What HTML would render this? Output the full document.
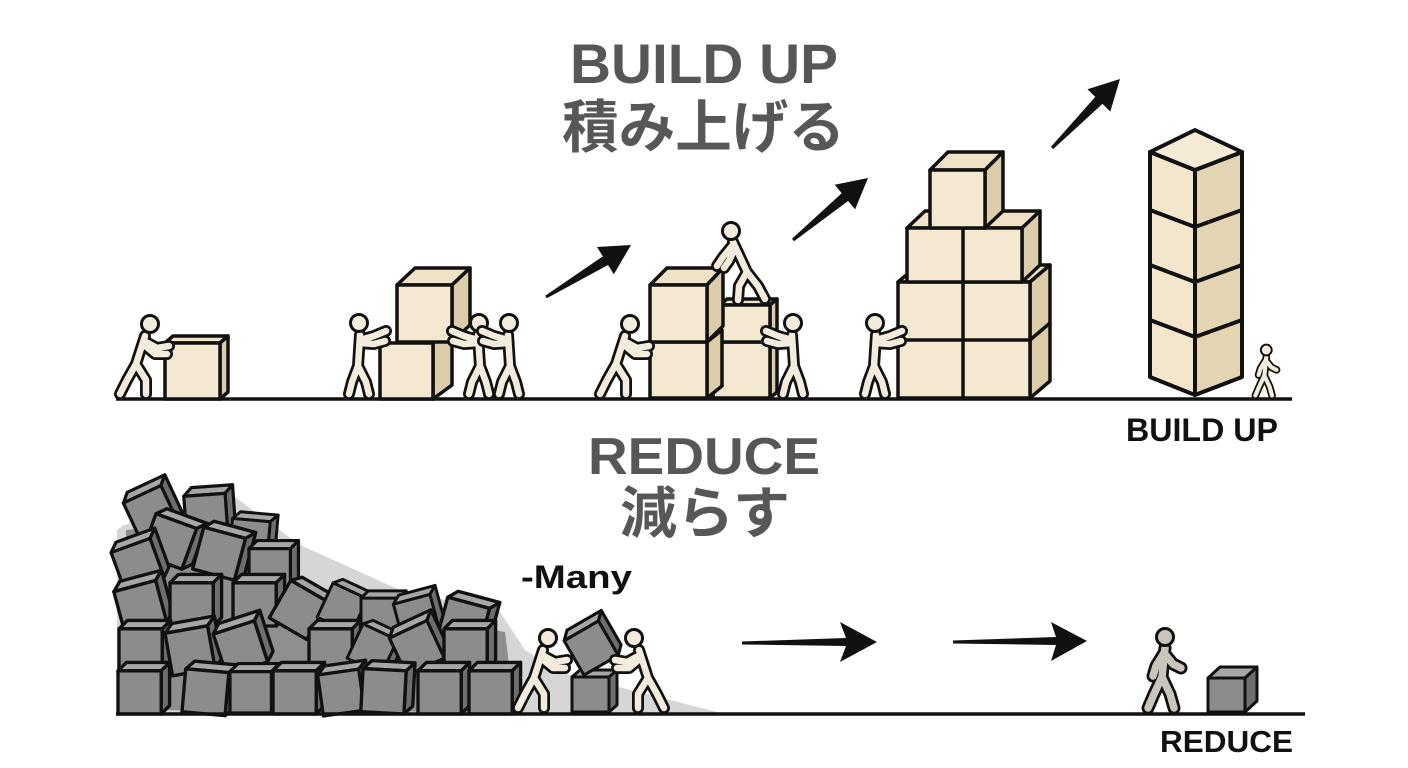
<!DOCTYPE html>
<html><head><meta charset="utf-8"><style>
html,body{margin:0;padding:0;background:#fff;}
svg{display:block;}
</style></head><body>
<svg width="1408" height="768" viewBox="0 0 1408 768" xmlns="http://www.w3.org/2000/svg">
<defs>
  <g id="cg" stroke="#111" stroke-width="2.8" stroke-linejoin="round">
    <path d="M-20,-16 L-13,-23 L23,-23 L16,-16 Z" fill="#a7a7a7"/>
    <path d="M16,-16 L23,-23 L23,13 L16,20 Z" fill="#6e6e6e"/>
    <rect x="-20" y="-16" width="36" height="36" fill="#8c8c8c"/>
  </g>
  <path id="pushL" fill="none" d="M3,-62 L-6,-34 M2,-57 L15,-50 L27,-52 M1,-54 L13,-44 L25,-44 M-6,-34 L-15,-18 L-22,-4 M-6,-34 L4,-18 L4,-4"/>
  <path id="reachL" fill="none" d="M0,-63 L-2,-32 M0,-58 L14,-62 L26,-67 M0,-55 L14,-54 L25,-57 M-2,-32 L-8,-16 L-11,-4 M-2,-32 L6,-16 L9,-4"/>
  <path id="walkL" fill="none" d="M2,-64 L-1,-35 M1,-59 L-7,-46 L-10,-36 M1,-59 L10,-48 L18,-44 M-1,-35 L-9,-18 L-15,-4 M-1,-35 L7,-18 L11,-4"/>
  <g id="push" stroke-linecap="round" stroke-linejoin="round">
    <use href="#pushL" stroke="#111" stroke-width="12"/>
    <use href="#pushL" stroke="#f3ecdc" stroke-width="6.5"/>
    <circle cx="8" cy="-74" r="8.5" fill="#f3ecdc" stroke="#111" stroke-width="3"/>
  </g>
  <g id="reach" stroke-linecap="round" stroke-linejoin="round">
    <use href="#reachL" stroke="#111" stroke-width="12"/>
    <use href="#reachL" stroke="#f3ecdc" stroke-width="6.5"/>
    <circle cx="-1" cy="-75" r="8.5" fill="#f3ecdc" stroke="#111" stroke-width="3"/>
  </g>
  <g id="walk" stroke-linecap="round" stroke-linejoin="round">
    <use href="#walkL" stroke="#111" stroke-width="12"/>
    <use href="#walkL" stroke="#f3ecdc" stroke-width="6.5"/>
    <circle cx="2" cy="-75" r="8.5" fill="#f3ecdc" stroke="#111" stroke-width="3"/>
  </g>
  <g id="walkG" stroke-linecap="round" stroke-linejoin="round">
    <use href="#walkL" stroke="#111" stroke-width="13"/>
    <use href="#walkL" stroke="#c9c5bd" stroke-width="7.5"/>
    <circle cx="2" cy="-75" r="8.5" fill="#c9c5bd" stroke="#111" stroke-width="3"/>
  </g>
</defs>

<rect width="1408" height="768" fill="#fff"/>

<!-- Titles -->
<g font-family="'Liberation Sans', 'Noto Sans CJK JP', sans-serif" font-weight="bold" fill="#575757">
  <text x="570" y="83" font-size="56" textLength="268" lengthAdjust="spacingAndGlyphs">BUILD UP</text>
  <text x="562" y="147" font-size="57" textLength="283" lengthAdjust="spacingAndGlyphs">積み上げる</text>
  <text x="588" y="474" font-size="52" textLength="232" lengthAdjust="spacingAndGlyphs">REDUCE</text>
  <text x="620" y="533" font-size="56" textLength="170" lengthAdjust="spacingAndGlyphs">減らす</text>
</g>
<g font-family="'Liberation Sans', sans-serif" font-weight="bold" fill="#111">
  <text x="521" y="588" font-size="32" textLength="111" lengthAdjust="spacingAndGlyphs">-Many</text>
  <text x="1126" y="441" font-size="32" textLength="152" lengthAdjust="spacingAndGlyphs">BUILD UP</text>
  <text x="1160" y="752" font-size="31" textLength="133" lengthAdjust="spacingAndGlyphs">REDUCE</text>
</g>

<!-- Ground lines -->
<line x1="116" y1="399" x2="1292" y2="399" stroke="#111" stroke-width="3.5"/>

<!-- Top boxes -->
<g stroke="#111" stroke-width="3.5" stroke-linejoin="round">
  <polygon points="165,343 173,336 228,336 220,343" fill="#efe2c6"/>
  <polygon points="220,343 228,336 228,392 220,399" fill="#dccdaa"/>
  <rect x="165" y="343" width="55" height="56" fill="#f4e8d0"/>
  <polygon points="433,343 452,330 452,385 433,399" fill="#dccdaa"/>
  <rect x="380" y="343" width="53" height="56" fill="#f4e8d0"/>
  <polygon points="397,285 415,268 470,268 452,285" fill="#efe2c6"/>
  <polygon points="452,285 470,268 470,325 452,342" fill="#dccdaa"/>
  <rect x="397" y="285" width="55" height="57" fill="#f4e8d0"/>
  <polygon points="770,342 777,336 777,392 770,398" fill="#dccdaa"/>
  <rect x="713" y="342" width="57" height="56" fill="#f4e8d0"/>
  <polygon points="720,305 727,299 777,299 770,305" fill="#efe2c6"/>
  <polygon points="770,305 777,299 777,336 770,342" fill="#dccdaa"/>
  <rect x="720" y="305" width="50" height="37" fill="#f4e8d0"/>
  <polygon points="707,342 722,330 722,386 707,398" fill="#dccdaa"/>
  <rect x="650" y="342" width="57" height="56" fill="#f4e8d0"/>
  <polygon points="650,285 667,268 723,268 707,285" fill="#efe2c6"/>
  <polygon points="707,285 723,268 723,326 707,342" fill="#dccdaa"/>
  <rect x="650" y="285" width="57" height="57" fill="#f4e8d0"/>
  <polygon points="898,282 918,265 1050,265 1030,282" fill="#efe2c6"/>
  <polygon points="1030,282 1050,265 1050,381 1030,398" fill="#dccdaa"/>
  <line x1="1030" y1="340" x2="1050" y2="323"/>
  <rect x="898" y="282" width="132" height="116" fill="#f4e8d0"/>
  <line x1="963" y1="282" x2="963" y2="398"/>
  <line x1="898" y1="340" x2="1030" y2="340"/>
  <polygon points="907,228 925,211 1040,211 1022,228" fill="#efe2c6"/>
  <polygon points="1022,228 1040,211 1040,265 1022,282" fill="#dccdaa"/>
  <rect x="907" y="228" width="115" height="54" fill="#f4e8d0"/>
  <line x1="963" y1="228" x2="963" y2="282"/>
  <polygon points="930,170 948,152 1003,152 985,170" fill="#efe2c6"/>
  <polygon points="985,170 1003,152 1003,211 985,228" fill="#dccdaa"/>
  <rect x="930" y="170" width="55" height="58" fill="#f4e8d0"/>
</g>

<!-- Tower -->
<g stroke="#111" stroke-width="4" stroke-linejoin="round">
  <polygon points="1150,152 1195,170 1195,395 1150,377" fill="#f3e6cc"/>
  <polygon points="1195,170 1242,152 1242,377 1195,395" fill="#e3d4b4"/>
  <polygon points="1150,152 1195,130 1242,152 1195,170" fill="#f5ead4"/>
  <polyline points="1150,210 1195,227 1242,210" fill="none"/>
  <polyline points="1150,265 1195,282 1242,265" fill="none"/>
  <polyline points="1150,320 1195,337 1242,320" fill="none"/>
</g>

<!-- Top people -->
<use href="#push" transform="translate(142,398)"/>
<use href="#reach" transform="translate(360,398)"/>
<use href="#reach" transform="translate(478,398) scale(-1,1)"/>
<use href="#reach" transform="translate(508,398) scale(-1,1)"/>
<use href="#push" transform="translate(622,398)"/>
<use href="#reach" transform="translate(792,398) scale(-1,1)"/>
<use href="#reach" transform="translate(876,398)"/>
<use href="#walk" transform="translate(1265,398) scale(0.64)"/>
<g stroke-linecap="round" stroke-linejoin="round" fill="none">
  <path d="M733,242 L747,272 M732,246 L723,257 L717,266 M735,248 L729,261 L724,268 M747,272 L739,286 L738,300 M747,272 L758,286 L765,299" stroke="#111" stroke-width="12"/>
  <path d="M733,242 L747,272 M732,246 L723,257 L717,266 M735,248 L729,261 L724,268 M747,272 L739,286 L738,300 M747,272 L758,286 L765,299" stroke="#f3ecdc" stroke-width="6.5"/>
  <circle cx="731" cy="231" r="8.5" fill="#f3ecdc" stroke="#111" stroke-width="3"/>
</g>

<!-- Up arrows -->
<g fill="#111">
  <polygon points="545.2,295.7 602.8,256.4 597,247 631,245 613.8,274.3 608,265 546.8,298.3"/>
  <polygon points="792,238.8 841.7,193.2 834.7,184.8 868,178 855.1,209.4 848.1,201 794,241.2"/>
  <polygon points="1050.9,146.9 1095.3,96.9 1087.5,89.2 1120,79 1110.3,111.6 1102.5,103.9 1053.1,149.1"/>
</g>

<!-- Bottom section -->
<polygon points="117,714 117,530 124,525 235,497 300,545 400,590 500,612 525,650 560,672 725,714" fill="#d6d6d6"/>
<polygon points="124,710 126,530 230,522 290,578 400,612 505,632 515,712" fill="#8f8f8f"/>

<g>
  <use href="#cg" transform="translate(152,510) rotate(-25) scale(1.15)"/>
  <use href="#cg" transform="translate(208,513) rotate(-4) scale(1.15)"/>
  <use href="#cg" transform="translate(252,537) rotate(5) scale(1.05)"/>
  <use href="#cg" transform="translate(172,540) rotate(20) scale(1.2)"/>
  <use href="#cg" transform="translate(222,552) rotate(15) scale(1.2)"/>
  <use href="#cg" transform="translate(272,567) rotate(0) scale(1.15)"/>
  <use href="#cg" transform="translate(139,562) rotate(-20) scale(1.15)"/>
  <use href="#cg" transform="translate(142,604) rotate(-15) scale(1.2)"/>
  <use href="#cg" transform="translate(194,602) rotate(0) scale(1.2)"/>
  <use href="#cg" transform="translate(257,602) rotate(0) scale(1.2)"/>
  <use href="#cg" transform="translate(302,609) rotate(30) scale(1.2)"/>
  <use href="#cg" transform="translate(345,607) rotate(25) scale(1.05)"/>
  <use href="#cg" transform="translate(382,615) rotate(0) scale(1.05)"/>
  <use href="#cg" transform="translate(418,615) rotate(-15) scale(1.05)"/>
  <use href="#cg" transform="translate(466,622) rotate(15) scale(1.2)"/>
  <use href="#cg" transform="translate(143,648) rotate(0) scale(1.2)"/>
  <use href="#cg" transform="translate(192,648) rotate(-10) scale(1.2)"/>
  <use href="#cg" transform="translate(242,645) rotate(-18) scale(1.2)"/>
  <use href="#cg" transform="translate(333,648) rotate(0) scale(1.2)"/>
  <use href="#cg" transform="translate(375,648) rotate(25) scale(1.05)"/>
  <use href="#cg" transform="translate(418,645) rotate(-25) scale(1.15)"/>
  <use href="#cg" transform="translate(468,648) rotate(0) scale(1.2)"/>
  <use href="#cg" transform="translate(142,690) rotate(0) scale(1.2)"/>
  <use href="#cg" transform="translate(208,690) rotate(5) scale(1.2)"/>
  <use href="#cg" transform="translate(253,690) rotate(0) scale(1.15)"/>
  <use href="#cg" transform="translate(297,690) rotate(0) scale(1.2)"/>
  <use href="#cg" transform="translate(343,690) rotate(-8) scale(1.15)"/>
  <use href="#cg" transform="translate(386,689) rotate(3) scale(1.2)"/>
  <use href="#cg" transform="translate(442,690) rotate(0) scale(1.2)"/>
  <use href="#cg" transform="translate(493,690) rotate(0) scale(1.2)"/>
</g>

<!-- bottom pushers -->
<g stroke="#111" stroke-width="3" stroke-linejoin="round">
  <polygon points="572,677 580,670 617,670 609,677" fill="#a7a7a7"/>
  <polygon points="609,677 617,670 617,705 609,712" fill="#6e6e6e"/>
  <rect x="572" y="677" width="37" height="35" fill="#8c8c8c"/>
</g>
<use href="#cg" transform="translate(592,645) rotate(-30) scale(1.1)"/>
<use href="#push" transform="translate(540,712)"/>
<use href="#push" transform="translate(642,712) scale(-1,1)"/>

<line x1="116" y1="714" x2="1305" y2="714" stroke="#111" stroke-width="3.5"/>

<!-- Horizontal arrows -->
<g fill="#111">
  <polygon points="742,641.5 846,638 840,622 877,642 840,662 846,646 742,644.5"/>
  <polygon points="953,640.5 1056,637 1051,622 1087,641 1051,661 1056,645 953,643.5"/>
</g>

<!-- Bottom right -->
<use href="#walkG" transform="translate(1163,712)"/>
<g stroke="#111" stroke-width="3" stroke-linejoin="round">
  <polygon points="1208,678 1220,667 1257,667 1245,678" fill="#a7a7a7"/>
  <polygon points="1245,678 1257,667 1257,701 1245,712" fill="#6e6e6e"/>
  <rect x="1208" y="678" width="37" height="34" fill="#8c8c8c"/>
</g>
</svg>
</body></html>
